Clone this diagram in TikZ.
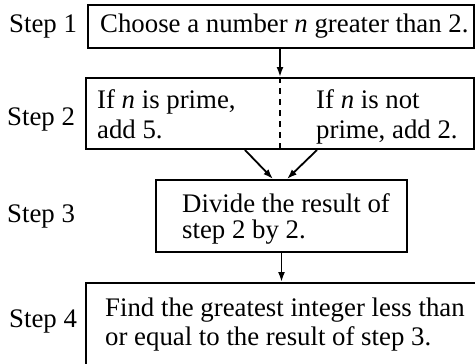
\documentclass[tikz,border=0pt]{standalone}
\usepackage{fontspec}
\setmainfont{Liberation Serif}
\usetikzlibrary{arrows.meta}
\begin{document}
\begin{tikzpicture}[x=1pt,y=1pt,
  box/.style={draw, line width=2pt, rectangle, inner sep=0pt},
  txt/.style={anchor=base west, inner sep=0pt, font=\fontsize{26.8}{30}\selectfont},
  arr/.style={line width=1.8pt, -{Latex[length=10pt,width=7pt]}}]
\useasboundingbox (0,0) rectangle (475,-364);
% boxes
\node[box, minimum width=386, minimum height=43] (b1) at (281,-26.2) {};
\node[box, minimum width=388, minimum height=71] (b2) at (280,-113.5) {};
\node[box, minimum width=251, minimum height=72] (b3) at (281.5,-216) {};
\node[box, minimum width=414, minimum height=117] (b4) at (293,-341.5) {};
% dashed divider
\draw[line width=1.2pt, dash pattern=on 6pt off 5pt] (b2.north) -- (b2.south);
% labels
\node[txt] (s1) at (9,-33) {Step 1};
\node[txt] (s2) at (7,-125) {Step 2};
\node[txt] (s3) at (7,-222) {Step 3};
\node[txt] (s4) at (9,-327) {Step 4};
% texts
\node[txt] (t1) at (100,-33) {Choose a number \textit{n} greater than 2.};
\node[txt] (t2a) at (97,-108) {If \textit{n} is prime,};
\node[txt] (t2b) at (97,-138) {add 5.};
\node[txt] (t2c) at (316,-108) {If \textit{n} is not};
\node[txt] (t2d) at (316,-138) {prime, add 2.};
\node[txt] (t3a) at (182,-212) {Divide the result of};
\node[txt] (t3b) at (182,-238) {step 2 by 2.};
\node[txt] (t4a) at (105,-316) {Find the greatest integer less than};
\node[txt] (t4b) at (105,-345) {or equal to the result of step 3.};
% connectors
\coordinate (l1) at ([xshift=-35pt]b2.south);
\coordinate (r1) at ([xshift=37pt]b2.south);
\coordinate (l2) at ([xshift=-8.5pt]b3.north);
\coordinate (r2) at ([xshift=5.5pt]b3.north);
\draw[arr] (b2.north |- b1.south) -- (b2.north);
\draw[arr] (l1) -- (l2);
\draw[arr] (r1) -- (r2);
\draw[arr] (b3.south) -- (b3.south |- b4.north);
\end{tikzpicture}
\end{document}
